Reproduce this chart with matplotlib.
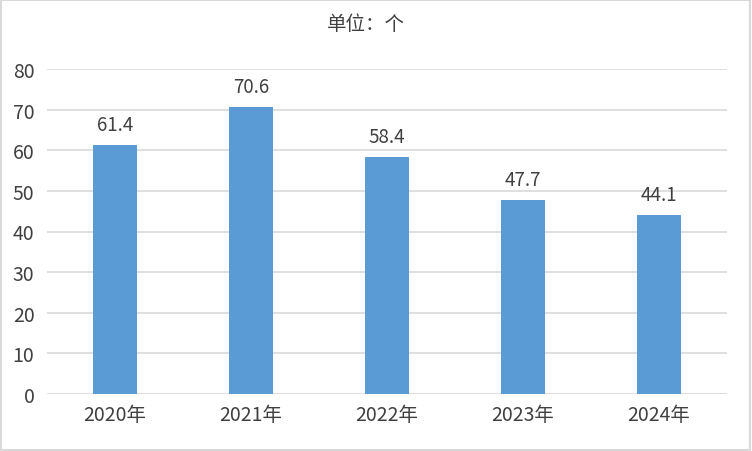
import matplotlib
matplotlib.use("Agg")
import matplotlib.pyplot as plt
from matplotlib.patches import Rectangle

plt.rcParams['font.family'] = ['Noto Sans CJK SC', 'DejaVu Sans']

years = ["2020年", "2021年", "2022年", "2023年", "2024年"]
values = [61.4, 70.6, 58.4, 47.7, 44.1]
yticks = [0, 10, 20, 30, 40, 50, 60, 70, 80]
unit_title = "单位：个"

fig = plt.figure(figsize=(7.52, 4.52), dpi=100)
ax = fig.add_axes([47/752, 1-395/452, 680/752, 325/452])

x = list(range(len(years)))
bars = ax.bar(x, values, width=0.32, color="#5B9BD5", zorder=3)
for xi, v in zip(x, values):
    ax.annotate(f"{v}", (xi, v), xytext=(0, 7), textcoords="offset points",
                ha="center", va="bottom", fontsize=13.5, color="#404040")

ax.set_xlim(-0.5, len(years) - 0.5)
ax.set_ylim(0, 80)
ax.set_yticks(yticks)
ax.set_xticks(x)
ax.set_xticklabels(years)
ax.grid(axis="y", color="#D9D9D9", linewidth=1.2, zorder=0)
for s in ax.spines.values():
    s.set_visible(False)
ax.tick_params(axis="both", length=0, labelsize=14, labelcolor="#404040")
ax.tick_params(axis="x", pad=7)
ax.tick_params(axis="y", pad=9)

fig.text(366/752, 1-25/452, unit_title, ha="center", va="center", fontsize=14, color="#404040")
fig.patches.append(Rectangle((0.001, 0.002), 0.997, 0.996, transform=fig.transFigure,
                             fill=False, edgecolor="#D9D9D9", linewidth=1.5))

fig.savefig("out.png", dpi=100)
